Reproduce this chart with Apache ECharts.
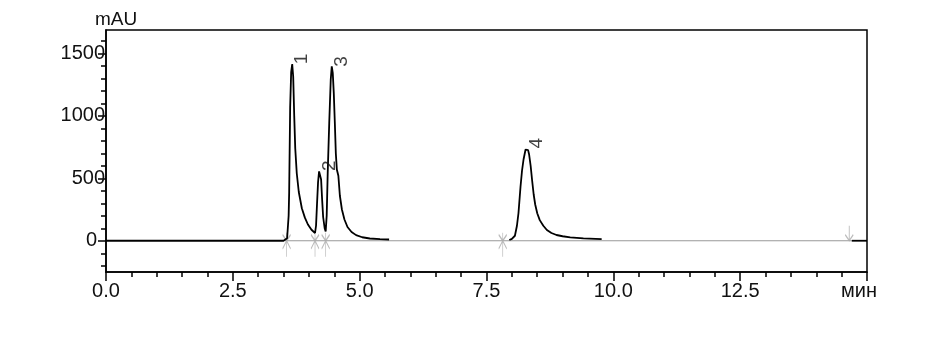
<!DOCTYPE html>
<html><head><meta charset="utf-8">
<script src="https://cdn.jsdelivr.net/npm/echarts@6/dist/echarts.min.js"></script>
<style>html,body{margin:0;padding:0;background:#fff}#c{width:946px;height:358px}</style>
</head><body><div id="c"></div>
<script>
// Signal trace, segment 1 (min, mAU)
const seg1T = [0, 1.0, 2.0, 3.0, 3.50, 3.53, 3.57, 3.60, 3.61, 3.63, 3.65, 3.67, 3.69, 3.71, 3.73, 3.76, 3.80, 3.86, 3.92, 3.98, 4.05, 4.12, 4.14, 4.16, 4.18, 4.20, 4.22, 4.24, 4.26, 4.28, 4.31, 4.33, 4.35, 4.37, 4.40, 4.43, 4.45, 4.47, 4.49, 4.51, 4.53, 4.55, 4.58, 4.61, 4.65, 4.70, 4.76, 4.84, 4.93, 5.05, 5.20, 5.40, 5.58];
const seg1V = [0, 0, 0, 0, 0, 5, 20, 200, 380, 1070, 1350, 1414, 1312, 1000, 740, 540, 390, 260, 185, 130, 88, 62, 120, 300, 470, 555, 560, 490, 330, 190, 100, 75, 200, 540, 940, 1290, 1395, 1340, 1180, 950, 700, 570, 520, 360, 250, 170, 110, 70, 45, 28, 18, 13, 10];
// Signal trace, segment 2
const seg2T = [7.95, 8.00, 8.06, 8.10, 8.13, 8.17, 8.20, 8.23, 8.27, 8.29, 8.32, 8.34, 8.37, 8.40, 8.43, 8.46, 8.50, 8.55, 8.62, 8.69, 8.78, 8.88, 9.00, 9.15, 9.41, 9.77];
const seg2V = [6, 15, 40, 120, 220, 430, 560, 650, 730, 740, 725, 690, 600, 480, 370, 290, 220, 165, 120, 86, 62, 46, 36, 27, 19, 13];
// Signal trace, segment 3
const seg3T = [14.70, 15.0];
const seg3V = [0, 0];
// Integration baseline
const baseT = [3.53, 14.70];
const baseV = [0, 0];
// Peak start/end markers
const markerT = [3.56, 4.12, 4.33, 7.82];
const endMarkerT = [14.65];
// Peaks
const peakNames = ['1', '2', '3', '4'];
const peakT = [3.67, 4.21, 4.45, 8.29];
const peakV = [1414, 560, 1395, 740];
// Axis ticks
const yLabelValues = [0, 500, 1000, 1500];
const yMinorValues = [-200, -100, 100, 200, 300, 400, 600, 700, 800, 900, 1100, 1200, 1300, 1400, 1600];
const xUnitLabel = 'мин';
const yUnitLabel = 'mAU';

const zip = (a, b) => a.map((t, i) => [t, b[i]]);
const FONT = 'Liberation Sans, Arial, sans-serif';
const TXT = '#111';

const chart = echarts.init(document.getElementById('c'), null, {renderer: 'canvas'});
chart.setOption({
  animation: false,
  backgroundColor: '#fff',
  grid: {left: 106, right: 79, top: 30, bottom: 86, show: true, borderColor: '#000', borderWidth: 1.5, backgroundColor: 'transparent'},
  xAxis: {
    type: 'value', min: 0, max: 15, interval: 2.5,
    axisLine: {show: true, onZero: false, lineStyle: {color: '#000', width: 1.5}},
    axisTick: {show: true, length: 9, lineStyle: {color: '#000', width: 1.5}},
    minorTick: {show: true, splitNumber: 5, length: 5, lineStyle: {color: '#000', width: 1.5}},
    splitLine: {show: false},
    axisLabel: {
      margin: 9, fontSize: 20, fontFamily: FONT, color: TXT,
      formatter: v => v === 15 ? '{u|' + xUnitLabel + '}' : v.toFixed(1),
      rich: {u: {fontSize: 20, fontFamily: FONT, color: TXT, padding: [0, 16, 0, 0]}}
    }
  },
  yAxis: [{
    type: 'value', min: -250, max: 1686,
    name: yUnitLabel, nameLocation: 'end', nameGap: 1,
    nameTextStyle: {fontSize: 19, fontFamily: FONT, color: TXT, align: 'center', padding: [0, 0, 0, 20]},
    axisLine: {show: true, onZero: false, lineStyle: {color: '#000', width: 1.5}},
    axisTick: {show: true, length: 8, customValues: yLabelValues, lineStyle: {color: '#000', width: 1.5}},
    splitLine: {show: false},
    axisLabel: {
      margin: 1, fontSize: 20, fontFamily: FONT, color: TXT, customValues: yLabelValues,
      formatter: v => v === 0 ? '{z|0}' : String(v),
      rich: {z: {fontSize: 20, fontFamily: FONT, color: TXT, padding: [0, 8, 0, 0]}}
    }
  }, {
    type: 'value', min: -250, max: 1686, position: 'left',
    axisLine: {show: false, onZero: false},
    axisTick: {show: true, length: 5, customValues: yMinorValues, lineStyle: {color: '#000', width: 1.5}},
    axisLabel: {show: false},
    splitLine: {show: false}
  }],
  series: [
    {type: 'line', data: zip(baseT, baseV), showSymbol: false, lineStyle: {color: '#999', width: 1.2}, z: 1},
    {type: 'line', data: zip(seg1T, seg1V), showSymbol: false, lineStyle: {color: '#000', width: 1.8}, z: 3},
    {type: 'line', data: zip(seg2T, seg2V), showSymbol: false, lineStyle: {color: '#000', width: 1.8}, z: 3},
    {type: 'line', data: zip(seg3T, seg3V), showSymbol: false, lineStyle: {color: '#000', width: 1.8}, z: 3},
    {type: 'scatter', data: markerT.map(t => [t, 0]), symbol: 'path://M5,0 L5,24 M1,2 L5,8 L9,2 M1,16 L5,8 L9,16',
      symbolSize: [8, 24], symbolOffset: [0, 4], itemStyle: {color: 'rgba(0,0,0,0)', borderColor: '#aaa', borderWidth: 1.2}, z: 2, silent: true},
    {type: 'scatter', data: endMarkerT.map(t => [t, 0]), symbol: 'path://M4,0 L4,15 M0,9 L4,15 L8,9',
      symbolSize: [8, 15], symbolOffset: [0, -7.5], itemStyle: {color: 'rgba(0,0,0,0)', borderColor: '#aaa', borderWidth: 1.2}, z: 2, silent: true},
    {type: 'scatter', data: peakT.map((t, i) => ({value: [t, peakV[i]], name: peakNames[i]})), symbolSize: 1,
      itemStyle: {color: 'rgba(0,0,0,0)'}, z: 4,
      label: {show: true, formatter: p => p.name, rotate: 90, position: 'inside', align: 'center', verticalAlign: 'middle',
        offset: [5, 10], fontSize: 19, fontFamily: FONT, color: TXT}}
  ]
});
</script></body></html>
